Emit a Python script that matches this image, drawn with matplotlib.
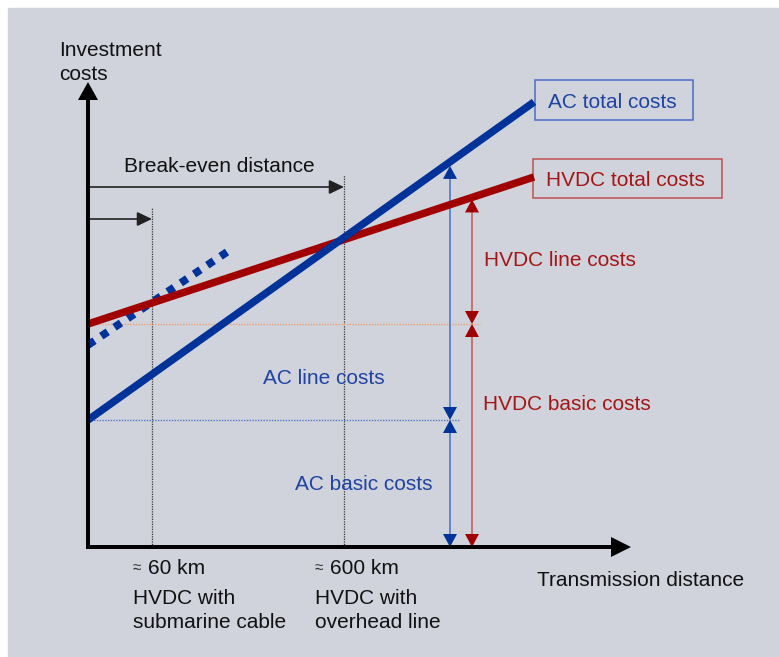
import numpy as np
import matplotlib
matplotlib.use("Agg")
import matplotlib.pyplot as plt
from matplotlib.patches import Rectangle

plt.rcParams['font.family'] = ['Liberation Sans', 'DejaVu Sans']

# ---- conceptual data (arbitrary distance / cost units) ----
distance = [0, 446]                 # span of the total-cost lines
ac_total = [127, 445]               # AC: basic costs -> total at far end
hvdc_total = [223, 370]             # HVDC: basic costs -> total at far end
cable_distance = [0, 139]           # AC with submarine cable (dotted)
cable_ac = [202, 295]
breakeven_cable = 64                # ~60 km
breakeven_overhead = 256            # ~600 km
ac_measure_x = 362
hvdc_measure_x = 384
x_axis_end = 543
y_axis_end = 465

BLUE = '#003399'
RED = '#a00000'
BLUE_TXT = '#1f43a3'
RED_TXT = '#a51515'
BG = '#d0d3db'
DY = -2   # small vertical text offset

fig = plt.figure(figsize=(7.79, 6.57), dpi=100)
ax = fig.add_axes([0, 0, 1, 1])
ax.set_xlim(-88, 691)
ax.set_ylim(-110, 547)
ax.axis('off')
ax.add_patch(Rectangle((-80, -110), 771, 649, color=BG, zorder=0))

# axes with arrowheads
ax.arrow(0, 0, 0, y_axis_end, width=4, head_width=20, head_length=18,
         length_includes_head=True, fc='black', ec='none', zorder=5)
ax.arrow(-2, 0, x_axis_end + 2, 0, width=4, head_width=20, head_length=20,
         length_includes_head=True, fc='black', ec='none', zorder=5)

# dotted reference lines
ax.plot([breakeven_cable] * 2, [0, 340], color='#333333', lw=0.9,
        ls=(0, (1, 1)), zorder=1)
ax.plot([breakeven_overhead] * 2, [0, 372], color='#333333', lw=0.9,
        ls=(0, (1, 1)), zorder=1)
ax.plot([0, 392], [hvdc_total[0]] * 2, color='#f0a070', lw=1.0,
        ls=(0, (1, 1)), zorder=1)
ax.plot([0, 372], [ac_total[0]] * 2, color='#5577cc', lw=1.0,
        ls=(0, (1, 1)), zorder=1)

# cost lines
ax.plot(cable_distance, cable_ac, color=BLUE, lw=5.6, ls=(0, (1.0, 1.05)),
        solid_capstyle='butt', dash_capstyle='butt', zorder=3)
ax.plot(distance, hvdc_total, color=RED, lw=5.4, solid_capstyle='butt', zorder=3)
ax.plot(distance, ac_total, color=BLUE, lw=5.4, solid_capstyle='butt', zorder=4)

# break-even arrows
for y, xe in [(360, breakeven_overhead), (328, breakeven_cable)]:
    ax.annotate('', xy=(xe, y), xytext=(0, y),
                arrowprops=dict(arrowstyle='-|>,head_length=9,head_width=4.3',
                                mutation_scale=1, lw=1.2, color='#222222',
                                shrinkA=0, shrinkB=0), zorder=2)

def double_arrow(x, y0, y1, line_color, head_color):
    ax.plot([x, x], [y0 + 6, y1 - 6], color=line_color, lw=1.3, zorder=2)
    ax.arrow(x, y1 - 14, 0, 14, width=0, head_width=14, head_length=13,
             length_includes_head=True, fc=head_color, ec='none', zorder=3)
    ax.arrow(x, y0 + 14, 0, -14, width=0, head_width=14, head_length=13,
             length_includes_head=True, fc=head_color, ec='none', zorder=3)

ac_top = np.interp(ac_measure_x, distance, ac_total) - 4
hvdc_top = np.interp(hvdc_measure_x, distance, hvdc_total) - 2
double_arrow(ac_measure_x, 0, ac_total[0], '#5a7fcc', BLUE)
double_arrow(ac_measure_x, ac_total[0], ac_top, '#5a7fcc', BLUE)
double_arrow(hvdc_measure_x, 0, hvdc_total[0], '#c86868', RED)
double_arrow(hvdc_measure_x, hvdc_total[0], hvdc_top, '#c86868', RED)

# legend-like boxes
ax.add_patch(Rectangle((447, 427), 158, 40, fill=False, ec='#4a6cc8', lw=1.1, zorder=2))
ax.add_patch(Rectangle((445, 349), 189, 39, fill=False, ec='#c05050', lw=1.1, zorder=2))

FS = 15
ax.text(460, 446 + DY, 'AC total costs', color=BLUE_TXT, fontsize=FS, va='center')
ax.text(458, 368 + DY, 'HVDC total costs', color=RED_TXT, fontsize=FS, va='center')
ax.text(396, 288 + DY, 'HVDC line costs', color=RED_TXT, fontsize=FS, va='center')
ax.text(395, 145 + DY, 'HVDC basic costs', color=RED_TXT, fontsize=FS, va='center')
ax.text(175, 171 + DY, 'AC line costs', color=BLUE_TXT, fontsize=FS, va='center')
ax.text(207, 64 + DY, 'AC basic costs', color=BLUE_TXT, fontsize=FS, va='center')

ax.text(-29, 499 + DY, 'Investment', color='#111111', fontsize=FS, va='center')
ax.text(-29, 474 + DY, 'costs', color='#111111', fontsize=FS, va='center')
ax.text(36, 383 + DY, 'Break-even distance', color='#111111', fontsize=FS, va='center')
ax.text(449, -31 + DY, 'Transmission distance', color='#111111', fontsize=FS, va='center')

for x0, km, line1, line2 in [(45, '60 km', 'HVDC with', 'submarine cable'),
                             (227, '600 km', 'HVDC with', 'overhead line')]:
    ax.text(x0, -19 + DY, '\u2248', color='#333333', fontsize=11, va='center')
    ax.text(x0 + 15, -19 + DY, km, color='#111111', fontsize=FS, va='center')
    ax.text(x0, -49 + DY, line1, color='#111111', fontsize=FS, va='center')
    ax.text(x0, -74 + DY, line2, color='#111111', fontsize=FS, va='center')

fig.savefig('out.png', dpi=100, facecolor='white')
